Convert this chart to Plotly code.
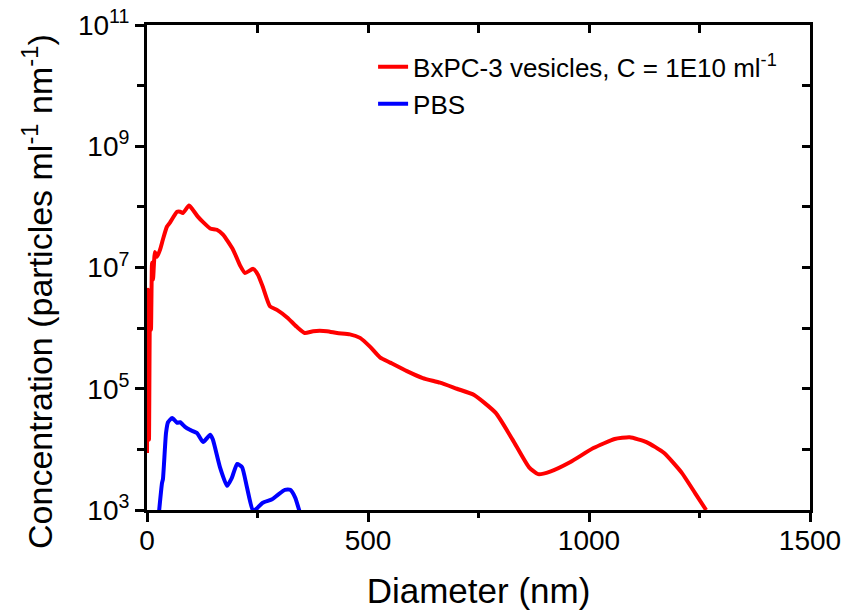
import plotly.graph_objects as go

# ---------------- data ----------------
red_name = "BxPC-3 vesicles, C = 1E10 ml<sup>-1</sup>"
red_x = [0, 2.3, 4.5, 6.8, 9, 11.3, 13.6, 18, 22.6, 29.4, 36, 45, 52, 68, 75, 81, 95, 104,
         115, 127, 143, 158, 172, 195, 210, 222, 240, 251, 262, 278, 294, 317, 339, 357,
         376, 407, 430, 459, 482, 505, 527, 550, 588, 624, 663, 701, 740, 789, 827, 864,
         885, 912, 958, 1010, 1058, 1092, 1130, 1170, 1210, 1240, 1265]
red_y = [8.7e3, 4.3e6, 1.45e4, 2.9e6, 9.3e5, 1.2e7, 6.3e6, 1.8e7, 1.5e7, 1.95e7, 2.9e7,
         4.7e7, 5.5e7, 8.3e7, 8.3e7, 7.9e7, 1.05e8, 8.9e7, 6.9e7, 5.6e7, 4.4e7, 4.2e7,
         3.5e7, 1.95e7, 1.1e7, 8.1e6, 9.5e6, 7.6e6, 4.8e6, 2.3e6, 2.0e6, 1.5e6, 1.05e6,
         8.3e5, 8.9e5, 8.9e5, 8.3e5, 7.9e5, 6.9e5, 4.9e5, 3.3e5, 2.7e5, 1.95e5, 1.5e5,
         1.26e5, 1.0e5, 7.9e4, 4.0e4, 1.45e4, 5.1e3, 3.9e3, 4.3e3, 6.2e3, 1.05e4, 1.48e4,
         1.58e4, 1.32e4, 8.7e3, 4.1e3, 1.9e3, 1.0e3]

blue_name = "PBS"
blue_x = [27, 34, 36, 43, 47.5, 57, 68, 75, 86, 97, 113, 127, 143, 149, 165, 181, 192,
          204, 215, 226, 240, 249, 262, 283, 296, 312, 324, 335, 346]
blue_y = [9.0e2, 2.8e3, 3.2e3, 1.86e4, 2.8e4, 3.3e4, 2.75e4, 2.8e4, 2.35e4, 2.1e4,
          1.86e4, 1.32e4, 1.74e4, 1.45e4, 5.1e3, 2.5e3, 3.4e3, 5.75e3, 5.1e3, 2.4e3,
          9.5e2, 1.07e3, 1.32e3, 1.5e3, 1.78e3, 2.15e3, 2.15e3, 1.62e3, 9.0e2]

x_major = [0, 500, 1000, 1500]
x_minor = [250, 750, 1250]
x_all = [0, 250, 500, 750, 1000, 1250, 1500]
y_major = [1e3, 1e5, 1e7, 1e9, 1e11]
y_major_text = ["10<sup>3</sup>", "10<sup>5</sup>", "10<sup>7</sup>", "10<sup>9</sup>", "10<sup>11</sup>"]
y_minor = [1e4, 1e6, 1e8, 1e10]
y_all = [1e3, 1e4, 1e5, 1e6, 1e7, 1e8, 1e9, 1e10, 1e11]

x_title = "Diameter (nm)"
y_title = "Concentration (particles ml<sup>-1</sup> nm<sup>-1</sup>)"

FONT = "Liberation Sans, Arial, sans-serif"

fig = go.Figure()
fig.add_trace(go.Scatter(x=red_x, y=red_y, mode="lines", name=red_name,
                         line=dict(color="#ff0000", width=4, shape="spline", smoothing=0.5),
                         xaxis="x", yaxis="y"))
# PBS drawn on the mirrored (top/right) axes, which share identical ranges
fig.add_trace(go.Scatter(x=blue_x, y=blue_y, mode="lines", name=blue_name,
                         line=dict(color="#0000ff", width=4, shape="spline", smoothing=0.5),
                         xaxis="x2", yaxis="y2"))

fig.update_layout(
    width=852, height=613,
    margin=dict(l=147, r=42, t=25, b=103, autoexpand=False),
    paper_bgcolor="white", plot_bgcolor="white",
    font=dict(family=FONT, color="black", size=28),
    showlegend=True,
    legend=dict(x=0.341, y=0.962, xanchor="left", yanchor="top",
                bgcolor="rgba(0,0,0,0)", font=dict(size=26, family=FONT),
                tracegroupgap=0),
    xaxis=dict(range=[0, 1500], showgrid=False, zeroline=False, automargin=False,
               showline=True, linewidth=3, linecolor="black",
               ticks="outside", ticklen=9, tickwidth=3, tickcolor="black",
               tickvals=x_major, ticktext=[str(v) for v in x_major],
               tickfont=dict(size=28, family=FONT), ticklabelstandoff=-6,
               ticklabeloverflow="allow",
               minor=dict(tickvals=x_minor, ticks="outside", ticklen=5,
                          tickwidth=3, tickcolor="black"),
               title=dict(text=x_title, font=dict(size=35, family=FONT), standoff=24)),
    yaxis=dict(type="log", range=[3, 11], showgrid=False, zeroline=False, automargin=False,
               showline=True, linewidth=3, linecolor="black",
               ticks="outside", ticklen=9, tickwidth=3, tickcolor="black",
               tickvals=y_major, ticktext=y_major_text,
               tickfont=dict(size=28, family=FONT), ticklabeloverflow="allow",
               minor=dict(tickvals=y_minor, ticks="outside", ticklen=7,
                          tickwidth=3, tickcolor="black")),
    xaxis2=dict(overlaying="x", side="top", anchor="y2", range=[0, 1500], automargin=False,
                showgrid=False, zeroline=False, showline=True, linewidth=3,
                linecolor="black", ticks="inside", ticklen=8, tickwidth=3,
                tickcolor="black", tickvals=x_all, showticklabels=False),
    yaxis2=dict(overlaying="y", side="right", anchor="x2", type="log", range=[3, 11],
                automargin=False,
                showgrid=False, zeroline=False, showline=True, linewidth=3,
                linecolor="black", ticks="inside", ticklen=8, tickwidth=3,
                tickcolor="black", tickvals=y_all, showticklabels=False),
    annotations=[dict(text=y_title, xref="paper", yref="paper", x=-0.166, y=0.4515,
                      xanchor="center", yanchor="middle", textangle=-90, showarrow=False,
                      font=dict(size=34, family=FONT, color="black"))],
)

# remove the browser's default 8px page margin so the figure fills the window exactly
fig.write_html("out.html", config={"displayModeBar": False},
               post_script="document.body.style.margin='0';")
